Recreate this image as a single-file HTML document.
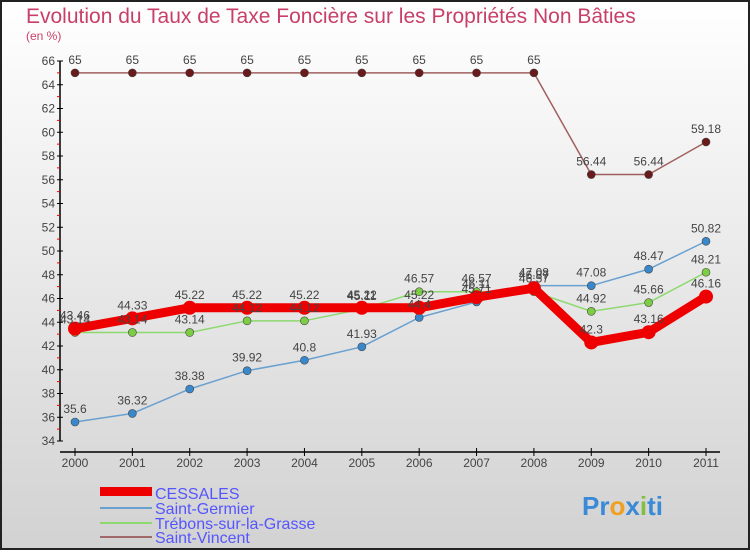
<!DOCTYPE html>
<html><head><meta charset="utf-8"><style>
html,body{margin:0;padding:0}
body{width:750px;height:550px;overflow:hidden;font-family:"Liberation Sans",sans-serif}
</style></head><body>
<svg width="750" height="550" xmlns="http://www.w3.org/2000/svg">
<defs><linearGradient id="bg" x1="0" y1="0" x2="0" y2="1"><stop offset="0" stop-color="#ffffff"/><stop offset="1" stop-color="#d2d2d2"/></linearGradient></defs>
<rect x="1" y="1" width="748" height="548" fill="url(#bg)" stroke="#222" stroke-width="2"/>
<text x="26" y="23" font-size="21" fill="#c8406a">Evolution du Taux de Taxe Foncière sur les Propriétés Non Bâties</text>
<text x="26" y="40" font-size="12" fill="#c8406a">(en %)</text>
<g id="axes"></g><g id="series"></g><g id="labels"></g>
<g>
<rect x="100" y="487" width="52" height="9" fill="#ee0000"/>
<text x="155" y="499" font-size="16" fill="#5555ff">CESSALES</text>
<line x1="100" y1="508" x2="152" y2="508" stroke="#6aa0d0" stroke-width="2"/>
<text x="155" y="514" font-size="16" fill="#5555ff">Saint-Germier</text>
<line x1="100" y1="523" x2="152" y2="523" stroke="#8ed870" stroke-width="2"/>
<text x="155" y="529" font-size="16" fill="#5555ff">Trébons-sur-la-Grasse</text>
<line x1="100" y1="537" x2="152" y2="537" stroke="#a06868" stroke-width="2"/>
<text x="155" y="543" font-size="16" fill="#5555ff">Saint-Vincent</text>
</g>
<g font-size="26" font-weight="bold">
<text x="582" y="515"><tspan fill="#3a8ad8">Pr</tspan><tspan fill="#f0a020">o</tspan><tspan fill="#3a8ad8">x</tspan><tspan fill="#80c040">i</tspan><tspan fill="#3a8ad8">ti</tspan></text>
</g>
</svg>
<script>
const years=[2000,2001,2002,2003,2004,2005,2006,2007,2008,2009,2010,2011];
const cessales=[43.46,44.33,45.22,45.22,45.22,45.22,45.22,46.11,46.87,42.3,43.16,46.16];
const saintGermier=[35.6,36.32,38.38,39.92,40.8,41.93,44.4,45.71,47.08,47.08,48.47,50.82];
const trebons=[43.14,43.14,43.14,44.12,44.12,45.11,46.57,46.57,46.57,44.92,45.66,48.21];
const saintVincent=[65,65,65,65,65,65,65,65,65,56.44,56.44,59.18];
const yTicks=[34,36,38,40,42,44,46,48,50,52,54,56,58,60,62,64,66];
const NS="http://www.w3.org/2000/svg";
const x=i=>75+i*(706-75)/11;
const y=v=>441-(v-34)*(380/32);
function mk(tag,attrs,parent,text){const e=document.createElementNS(NS,tag);for(const k in attrs)e.setAttribute(k,attrs[k]);if(text!==undefined)e.textContent=text;parent.appendChild(e);return e;}
const ax=document.getElementById('axes');
const ya=mk('line',{x1:60,y1:y(66),x2:60,y2:y(34),stroke:'#000','stroke-width':1.5},ax);


const xa=mk('line',{x1:60,y1:452,x2:720,y2:452,stroke:'#000','stroke-width':1.5},ax);


yTicks.forEach(t=>{
  mk('line',{x1:57,y1:y(t),x2:63,y2:y(t),stroke:'#000'},ax);
  if(t<66)mk('line',{x1:57,y1:y(t+1),x2:60,y2:y(t+1),stroke:'#e00'},ax);
  const tl=mk('text',{x:55,y:y(t)+4,'font-size':12,fill:'#444','text-anchor':'end'},ax,String(t));
  
  
});
years.forEach((yr,i)=>{
  mk('line',{x1:x(i),y1:448,x2:x(i),y2:456,stroke:'#000'},ax);
  const tl=mk('text',{x:x(i),y:467,'font-size':12,fill:'#444','text-anchor':'middle'},ax,String(yr));
  
  
});
const sg=document.getElementById('series'),lg=document.getElementById('labels');
const series=[
 {n:'saint-vincent',d:saintVincent,c:'#a06060',w:1.5,pc:'#6a1a1a',r:4},
 {n:'saint-germier',d:saintGermier,c:'#6aa0d0',w:1.5,pc:'#3a88cc',r:4},
 {n:'trebons',d:trebons,c:'#8ed870',w:1.5,pc:'#7ccc44',r:4},
 {n:'cessales',d:cessales,c:'#ee0000',w:9,pc:'#ee0000',r:7}
];
series.forEach(s=>{
  const pl=mk('polyline',{points:s.d.map((v,i)=>x(i)+','+y(v)).join(' '),fill:'none',stroke:s.c,'stroke-width':s.w,'stroke-linejoin':'round'},sg);
  
  
  s.d.forEach((v,i)=>{
    const p=mk('circle',{cx:x(i),cy:y(v),r:s.r,fill:s.pc,stroke:'#444','stroke-width':s.r>5?0:0.6},sg);
    
    
    const l=mk('text',{x:x(i),y:y(v)-9,'font-size':12,fill:'#444','text-anchor':'middle'},lg,String(v));
    
    
  });
});
</script>
</body></html>
